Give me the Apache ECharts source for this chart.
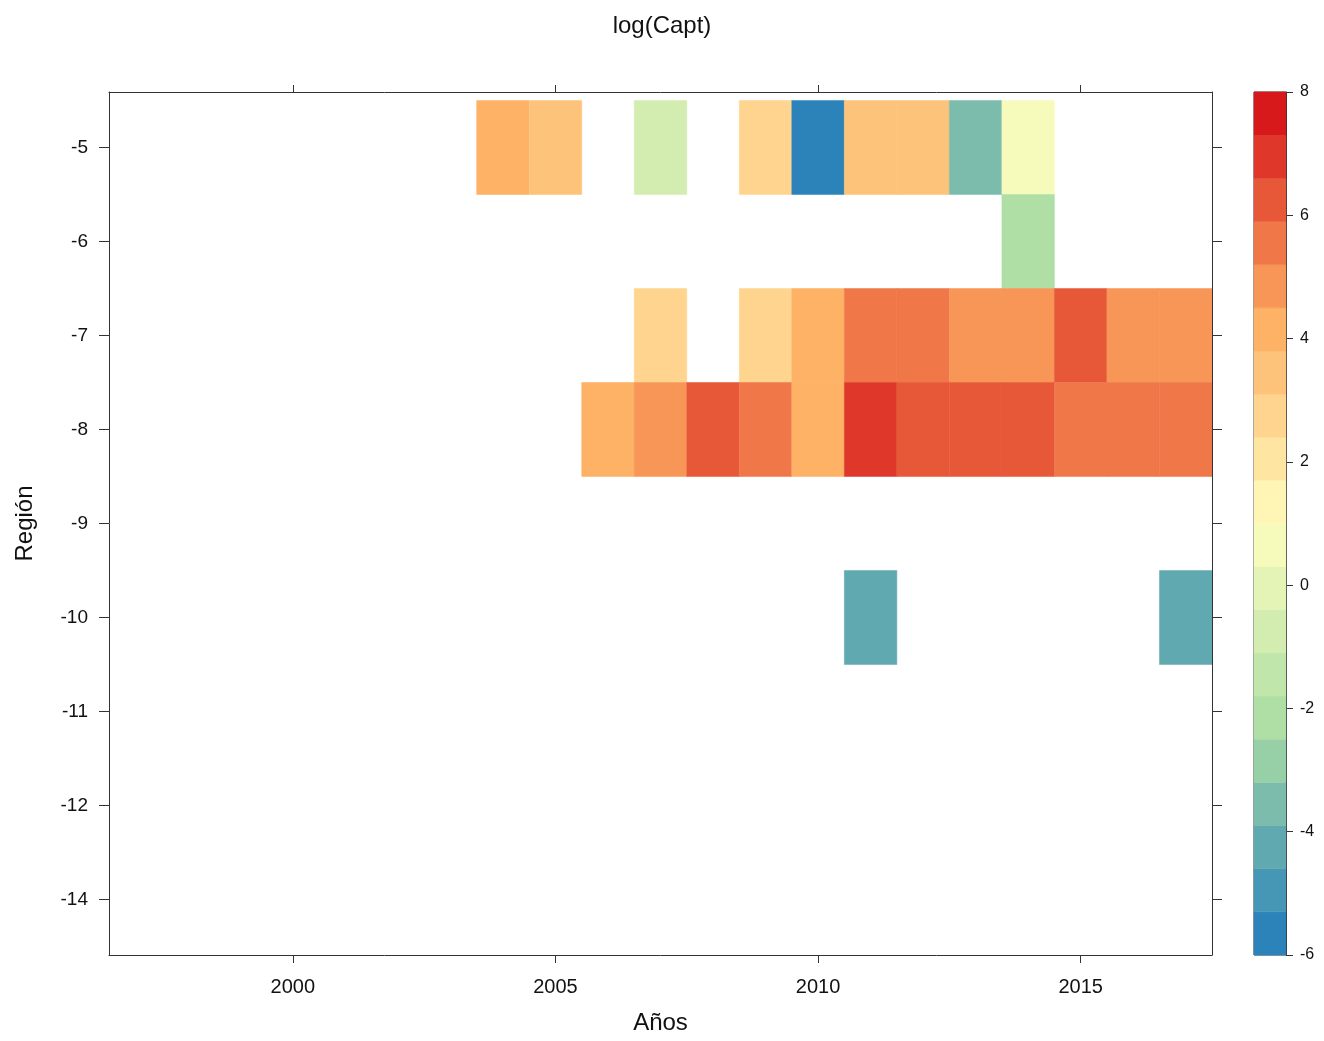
<!DOCTYPE html>
<html>
<head>
<meta charset="utf-8">
<title>log(Capt)</title>
<script src="https://cdn.jsdelivr.net/npm/echarts@6/dist/echarts.min.js"></script>
<style>
  html, body { margin: 0; padding: 0; background: #ffffff; }
  #chart { width: 1324px; height: 1041px; }
</style>
</head>
<body>
<div id="chart"></div>
<script>
// Region categories, top to bottom
const regions = ['-5', '-6', '-7', '-8', '-9', '-10', '-11', '-12', '-14'];

// log(Capt) per region: [year, value]
const capt_5  = [[2004, 4.2], [2005, 3.6], [2007, -1.0], [2009, 2.6], [2010, -5.5],
                 [2011, 3.3], [2012, 3.3], [2013, -3.6], [2014, 0.8]];
const capt_6  = [[2014, -2.3]];
const capt_7  = [[2007, 2.5], [2009, 3.0], [2010, 4.3], [2011, 5.6], [2012, 5.6],
                 [2013, 5.0], [2014, 5.0], [2015, 6.0], [2016, 5.0], [2017, 5.0]];
const capt_8  = [[2006, 4.4], [2007, 5.0], [2008, 6.3], [2009, 5.5], [2010, 4.4],
                 [2011, 7.0], [2012, 6.2], [2013, 6.2], [2014, 6.2], [2015, 5.5],
                 [2016, 5.5], [2017, 5.5]];
const capt_9  = [];
const capt_10 = [[2011, -4.3], [2017, -4.3]];
const capt_11 = [];
const capt_12 = [];
const capt_14 = [];

// Axis ticks
const yearTicks = [2000, 2005, 2010, 2015];
const keyBreaks = [-6, -5.3, -4.6, -3.9, -3.2, -2.5, -1.8, -1.1, -0.4, 0.3, 1,
                   1.7, 2.4, 3.1, 3.8, 4.5, 5.2, 5.9, 6.6, 7.3, 8];

const rows = [capt_5, capt_6, capt_7, capt_8, capt_9, capt_10, capt_11, capt_12, capt_14];

// Spectral ramp (blue -> green -> yellow -> orange -> red)
const ramp = ['#2b83ba', '#abdda4', '#ffffbf', '#fdae61', '#d7191c'];
function hexToRgb(h) {
  return [parseInt(h.slice(1, 3), 16), parseInt(h.slice(3, 5), 16), parseInt(h.slice(5, 7), 16)];
}
function rampColor(t) {
  const s = t * (ramp.length - 1);
  const i = Math.min(Math.floor(s), ramp.length - 2);
  const f = s - i;
  const a = hexToRgb(ramp[i]), b = hexToRgb(ramp[i + 1]);
  const c = a.map((v, k) => Math.round(v + (b[k] - v) * f));
  return 'rgb(' + c.join(',') + ')';
}
const nBands = keyBreaks.length - 1;
const bands = [];
for (let i = 0; i < nBands; i++) {
  bands.push({ lo: keyBreaks[i], hi: keyBreaks[i + 1], color: rampColor(i / (nBands - 1)) });
}

// Cell data: [year, region index, value]
const cells = [];
rows.forEach((row, r) => row.forEach(([yr, v]) => cells.push([yr, r, v])));

const bandData = bands.map((b, i) => [b.lo, b.hi, i]);

const axisColor = '#333333';
const font = 'Liberation Sans, Arial, Helvetica, sans-serif';

const chart = echarts.init(document.getElementById('chart'), null, { renderer: 'canvas' });

chart.setOption({
  backgroundColor: '#ffffff',
  animation: false,
  title: {
    text: 'log(Capt)',
    left: 'center',
    top: 9,
    textStyle: { fontFamily: font, fontSize: 24, fontWeight: 'normal', color: '#111' }
  },
  grid: [
    { left: 109, top: 92, width: 1103, height: 863, containLabel: false },
    { left: 1254, top: 92, width: 32, height: 863, containLabel: false,
      show: true, borderColor: axisColor, borderWidth: 1, backgroundColor: 'transparent' }
  ],
  visualMap: {
    type: 'piecewise',
    show: false,
    seriesIndex: 0,
    dimension: 2,
    pieces: bands.map(b => ({ gte: b.lo, lt: b.hi, color: b.color }))
  },
  xAxis: [
    {
      gridIndex: 0, type: 'value', position: 'bottom', min: 1996.5, max: 2017.5,
      name: 'Años', nameLocation: 'middle', nameGap: 56,
      nameTextStyle: { fontFamily: font, fontSize: 24, color: '#111' },
      axisLine: { show: true, onZero: false, lineStyle: { color: axisColor, width: 1 } },
      axisTick: { show: true, length: 8, customValues: yearTicks, lineStyle: { color: axisColor } },
      axisLabel: {
        customValues: yearTicks,
        formatter: v => String(Math.round(v)),
        fontFamily: font, fontSize: 20, color: '#111', margin: 22
      },
      splitLine: { show: false }
    },
    {
      gridIndex: 0, type: 'value', position: 'top', min: 1996.5, max: 2017.5,
      axisLine: { show: true, onZero: false, lineStyle: { color: axisColor, width: 1 } },
      axisTick: { show: true, length: 7, customValues: yearTicks, lineStyle: { color: axisColor } },
      axisLabel: { show: false },
      splitLine: { show: false }
    },
    {
      gridIndex: 1, type: 'value', min: 0, max: 1, show: false
    }
  ],
  yAxis: [
    {
      gridIndex: 0, type: 'value', position: 'left', inverse: true, min: -0.59, max: 8.59,
      name: 'Región', nameLocation: 'middle', nameGap: 72,
      nameTextStyle: { fontFamily: font, fontSize: 24, color: '#111' },
      axisLine: { show: true, onZero: false, lineStyle: { color: axisColor, width: 1 } },
      axisTick: { show: true, length: 10, customValues: regions.map((_, i) => i), lineStyle: { color: axisColor } },
      axisLabel: {
        customValues: regions.map((_, i) => i),
        formatter: v => regions[Math.round(v)],
        fontFamily: font, fontSize: 19, color: '#111', margin: 21
      },
      splitLine: { show: false }
    },
    {
      gridIndex: 0, type: 'value', position: 'right', inverse: true, min: -0.59, max: 8.59,
      axisLine: { show: true, onZero: false, lineStyle: { color: axisColor, width: 1 } },
      axisTick: { show: true, length: 10, customValues: regions.map((_, i) => i), lineStyle: { color: axisColor } },
      axisLabel: { show: false },
      splitLine: { show: false }
    },
    {
      gridIndex: 1, type: 'value', position: 'right', min: -6, max: 8, interval: 2,
      axisLine: { show: true, onZero: false, lineStyle: { color: axisColor, width: 1 } },
      axisTick: { show: true, length: 7, lineStyle: { color: axisColor } },
      axisLabel: { fontFamily: font, fontSize: 16, color: '#111', margin: 14 },
      splitLine: { show: false }
    }
  ],
  series: [
    {
      type: 'custom',
      name: 'log(Capt)',
      xAxisIndex: 0,
      yAxisIndex: 0,
      data: cells,
      dimensions: ['year', 'region', 'value'],
      encode: { x: 0, y: 1 },
      clip: true,
      renderItem: function (params, api) {
        const x = api.value(0), y = api.value(1);
        const p0 = api.coord([x - 0.5, y - 0.5]);
        const p1 = api.coord([x + 0.5, y + 0.5]);
        const color = api.visual('color');
        return {
          type: 'rect',
          shape: {
            x: Math.min(p0[0], p1[0]), y: Math.min(p0[1], p1[1]),
            width: Math.abs(p1[0] - p0[0]), height: Math.abs(p1[1] - p0[1])
          },
          style: { fill: color, stroke: color, lineWidth: 0.5 }
        };
      }
    },
    {
      type: 'custom',
      name: 'key',
      xAxisIndex: 2,
      yAxisIndex: 2,
      data: bandData,
      encode: { y: [0, 1] },
      silent: true,
      renderItem: function (params, api) {
        const lo = api.value(0), hi = api.value(1);
        const idx = api.value(2);
        const p0 = api.coord([0, hi]);
        const p1 = api.coord([1, lo]);
        const color = bands[idx].color;
        return {
          type: 'rect',
          shape: { x: p0[0], y: p0[1], width: p1[0] - p0[0], height: p1[1] - p0[1] },
          style: { fill: color, stroke: color, lineWidth: 0.5 }
        };
      }
    }
  ]
});
</script>
</body>
</html>
